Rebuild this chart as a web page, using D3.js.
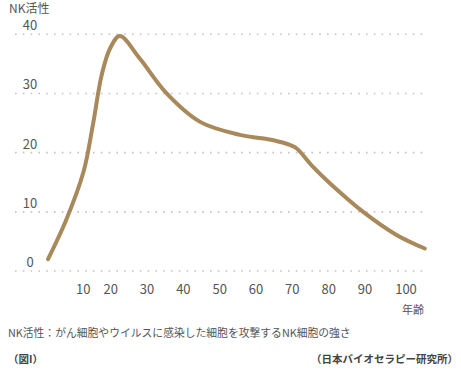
<!DOCTYPE html>
<html>
<head>
<meta charset="utf-8">
<script src="https://cdn.jsdelivr.net/npm/d3@7"></script>
<style>
  html, body { margin: 0; padding: 0; background: #fff; }
  svg { display: block; }
  text { font-family: "Noto Sans CJK JP", "Noto Sans", sans-serif; }
</style>
</head>
<body>
<svg id="chart" width="461" height="372"></svg>
<script>
// ---- data ----
const ages = [0, 5, 10.1, 13.5, 16.7, 19.75, 22.5, 28, 35.4, 44.6, 55.6, 64.8, 69.3, 71.2, 75.7, 80.4, 89.5, 97.7, 104.6];
const nkActivity = [2.0, 8.4, 16.8, 24.7, 33.1, 37.6, 39.7, 35.9, 30.0, 25.2, 23.0, 22.1, 21.3, 20.7, 17.6, 14.8, 10.0, 6.1, 3.8];
const xTicks = [10, 20, 30, 40, 50, 60, 70, 80, 90, 100];
const yTicks = [0, 10, 20, 30, 40];
const yTitle = "NK活性";
const xTitle = "年齢";
const footnote = "NK活性：がん細胞やウイルスに感染した細胞を攻撃するNK細胞の強さ";
const figLabel = "（図I）";
const source = "（日本バイオセラピー研究所）";

// ---- scales ----
const x = d3.scaleLinear().domain([0, 10, 20, 90, 100]).range([48, 83.3, 110.7, 365, 406]);
const y = d3.scaleLinear().domain([0, 40]).range([271, 34.3]);

const svg = d3.select("#chart");

// gridlines
svg.append("g").selectAll("line").data(yTicks).join("line")
  .attr("x1", 15).attr("x2", 423)
  .attr("y1", d => y(d)).attr("y2", d => y(d))
  .attr("stroke", "#c4c4c4").attr("stroke-width", 1.6)
  .attr("stroke-dasharray", "1.6 6.2");

// y labels
svg.append("g").selectAll("text").data(yTicks).join("text")
  .attr("x", 30).attr("y", d => y(d) - 9.5)
  .attr("text-anchor", "middle").attr("dominant-baseline", "central")
  .attr("font-size", 13).attr("fill", "#555")
  .text(d => d);

// x labels
svg.append("g").selectAll("text").data(xTicks).join("text")
  .attr("x", d => x(d)).attr("y", 288.5)
  .attr("text-anchor", "middle").attr("dominant-baseline", "central")
  .attr("font-size", 13).attr("fill", "#555")
  .text(d => d);

// titles
svg.append("text").attr("x", 9).attr("y", 7)
  .attr("dominant-baseline", "central")
  .attr("font-size", 12).attr("fill", "#555").text(yTitle);
svg.append("text").attr("x", 413).attr("y", 308.5)
  .attr("text-anchor", "middle").attr("dominant-baseline", "central")
  .attr("font-size", 11).attr("fill", "#555").text(xTitle);

// line
const line = d3.line()
  .x((d, i) => x(ages[i]))
  .y(d => y(d))
  .curve(d3.curveCatmullRom.alpha(0.5));
svg.append("path").datum(nkActivity)
  .attr("d", line)
  .attr("fill", "none")
  .attr("stroke", "#a8895b")
  .attr("stroke-width", 4)
  .attr("stroke-linecap", "round")
  .attr("stroke-linejoin", "round");

// footnotes
svg.append("text").attr("x", 8).attr("y", 331.5)
  .attr("dominant-baseline", "central")
  .attr("font-size", 10.8).attr("fill", "#555").text(footnote);
svg.append("text").attr("x", 8).attr("y", 358)
  .attr("dominant-baseline", "central")
  .attr("font-size", 10.5).attr("font-weight", "bold").attr("fill", "#444").text(figLabel);
svg.append("text").attr("x", 458).attr("y", 358)
  .attr("text-anchor", "end").attr("dominant-baseline", "central")
  .attr("font-size", 10.5).attr("font-weight", "bold").attr("fill", "#444").text(source);
</script>
</body>
</html>
